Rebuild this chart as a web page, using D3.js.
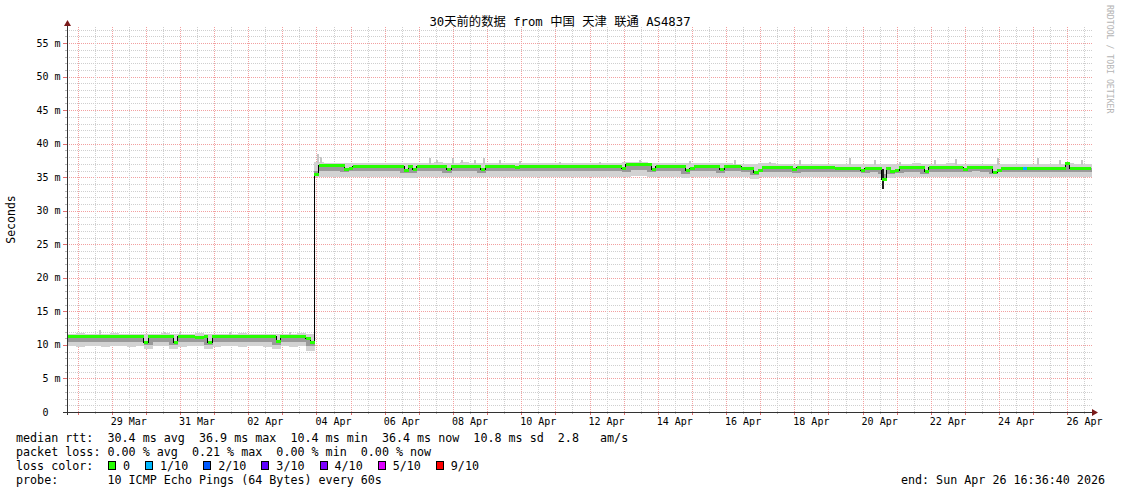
<!DOCTYPE html>
<html><head><meta charset="utf-8">
<script src="https://cdn.jsdelivr.net/npm/d3@7"></script>
<style>
body{margin:0;background:#fff}
svg{display:block}
text{font-family:'DejaVu Sans Mono','Noto Sans CJK SC',monospace;fill:#000;white-space:pre}
</style>
</head><body>
<svg id="c" width="1121" height="494"></svg>
<script>
// ---------------- DATA ----------------
const chartTitle = "30天前的数据 from 中国 天津 联通 AS4837";
const endTimeIso = "2026-04-26T16:36:40Z";
const spanDays = 30;
const yAxisTitle = "Seconds";
const watermark = "RRDTOOL / TOBI OETIKER";

const yTickValues = [0, 5, 10, 15, 20, 25, 30, 35, 40, 45, 50, 55];
const yTickLabels = ["0  ", "5 m", "10 m", "15 m", "20 m", "25 m", "30 m", "35 m", "40 m", "45 m", "50 m", "55 m"];
const yMax = 57.4;

const xTickDays = ["2026-03-29","2026-03-31","2026-04-02","2026-04-04","2026-04-06","2026-04-08","2026-04-10","2026-04-12","2026-04-14","2026-04-16","2026-04-18","2026-04-20","2026-04-22","2026-04-24","2026-04-26"];
const xTickLabels = ["29 Mar","31 Mar","02 Apr","04 Apr","06 Apr","08 Apr","10 Apr","12 Apr","14 Apr","16 Apr","18 Apr","20 Apr","22 Apr","24 Apr","26 Apr"];

// median RTT (ms), one value every 3 hours from the start of the 30-day window
const medianStepHours = 3;
const medianRtt = [
 11.2,11.2,11.2,11.2,11.2,11.2,11.2,11.2,
 11.2,11.2,11.3,11.2,11.2,11.2,11.2,11.2,
 11.2,11.2,10.4,11.2,11.2,11.2,11.2,11.2,
 11.2,10.4,11.2,11.2,11.2,11.2,11.1,11.1,
 11.2,10.4,11.2,11.2,11.2,11.2,11.2,11.2,
 11.2,11.2,11.2,11.2,11.2,11.2,11.2,11.2,
 11.2,10.5,11.2,11.2,11.2,11.2,11.2,11.2,
 11.0,10.4,35.4,36.7,36.7,36.7,36.7,36.7,
 36.7,36.2,36.3,36.65,36.65,36.65,36.65,36.65,
 36.65,36.65,36.65,36.65,36.65,36.65,36.65,36.05,
 36.6,36.1,36.65,36.65,36.65,36.65,36.65,36.65,
 36.65,36.1,36.6,36.6,36.6,36.6,36.6,36.6,
 36.6,36.15,36.6,36.6,36.6,36.6,36.6,36.6,
 36.6,36.4,36.65,36.65,36.65,36.65,36.65,36.65,
 36.65,36.65,36.65,36.65,36.65,36.65,36.65,36.65,
 36.65,36.65,36.65,36.65,36.65,36.65,36.65,36.65,
 36.65,36.65,36.3,36.85,36.85,36.85,36.85,36.85,
 36.85,36.2,36.65,36.65,36.65,36.65,36.65,36.65,
 36.65,35.95,36.3,36.65,36.65,36.65,36.65,36.65,
 36.65,36.1,36.6,36.6,36.6,36.6,36.3,36.3,
 36.3,35.65,36.0,36.45,36.45,36.45,36.45,36.45,
 36.45,36.45,36.2,36.45,36.45,36.45,36.45,36.45,
 36.45,36.45,36.45,36.45,36.3,36.3,36.3,36.3,
 36.3,36.3,36.0,36.3,36.3,36.3,36.3,34.6,
 36.3,35.8,36.0,36.4,36.4,36.4,36.4,36.4,
 36.4,35.8,36.45,36.45,36.45,36.45,36.45,36.45,
 36.45,36.45,36.2,36.45,36.45,36.45,36.45,36.45,
 36.45,35.75,36.0,36.35,36.35,36.35,36.35,36.35,
 36.35,36.35,36.35,36.35,36.35,36.35,36.35,36.35,
 36.35,36.35,37.0,36.35,36.35,36.35,36.35,36.35
];
// samples with packet loss (index into medianRtt, loss in tenths)
const lossSampleIndex = [224];
const lossSampleTenths = [1];

// smoke (spread of the pings), one value every 6 hours
const smokeStepHours = 6;
const smokeMax = [
 11.7,11.8,11.7,11.7,11.7,11.8,11.7,11.7,11.7,11.7,11.7,11.8,
 11.7,11.7,11.7,11.8,11.7,11.7,11.7,11.7,11.8,11.7,11.7,11.7,
 11.7,11.7,11.7,11.8,11.7,37.2,37.1,37.1,37.1,37.1,37.15,37.1,
 37.1,37.1,37.1,37.1,37.1,37.15,37.1,37.2,37.1,37.1,37.2,37.1,
 37.1,37.1,37.15,37.1,37.1,37.1,37.1,37.15,37.1,37.1,37.1,37.1,
 37.15,37.15,37.1,37.1,37.15,37.3,37.3,37.3,37.15,37.1,37.15,37.1,
 37.1,37.1,37.15,37.1,37.1,37.1,37.0,37.0,37.0,37.05,37.05,37.0,
 37.0,37.0,37.0,37.0,37.0,36.95,36.95,37.0,36.95,36.95,36.95,36.95,
 37.0,37.0,37.0,37.05,37.0,37.0,37.0,37.05,37.0,37.0,37.0,37.0,
 36.95,36.95,36.95,36.95,37.0,36.95,36.95,36.95,37.0,37.05,36.95,36.95
];
const smokeMin = [
 9.8,9.7,9.8,9.8,9.7,9.8,9.8,9.7,9.8,9.4,9.8,9.8,
 9.4,9.7,9.8,9.8,9.4,9.7,9.8,9.8,9.7,9.8,9.8,9.7,
 9.4,9.8,9.7,9.8,9.1,35.1,35.1,35.1,35.0,35.1,35.1,35.1,
 35.1,35.1,35.1,34.9,34.9,35.1,35.1,35.1,35.0,35.1,35.1,35.1,
 35.0,35.1,35.1,35.1,35.1,35.1,35.1,35.1,35.1,35.1,35.1,35.1,
 35.1,35.1,35.1,35.1,35.1,35.0,35.2,35.2,35.0,35.1,35.1,35.1,
 34.9,35.1,35.1,35.1,35.0,35.1,35.1,35.1,34.8,35.1,35.1,35.1,
 35.1,35.1,35.1,35.1,35.1,35.1,35.1,35.1,35.1,35.0,35.1,34.9,
 34.9,35.1,35.1,35.1,35.0,35.1,35.1,35.1,35.1,35.1,35.1,35.1,
 35.0,35.1,35.1,35.1,35.1,35.1,35.1,35.1,35.1,35.1,35.1,35.1
];
// lower edge of the dense (darker) part of the smoke
const smokeLow = [
 10.4,10.4,10.4,10.4,10.4,10.4,10.4,10.4,10.4,10.0,10.4,10.4,
 10.0,10.4,10.4,10.4,10.0,10.4,10.4,10.4,10.4,10.4,10.4,10.4,
 10.0,10.4,10.4,10.4,9.8,35.9,36.0,36.0,35.8,35.9,36.0,36.0,
 36.0,36.0,36.0,35.6,35.6,36.0,36.0,36.0,35.7,36.0,36.0,36.0,
 35.7,36.0,36.0,36.0,35.9,36.0,36.0,36.0,36.0,36.0,36.0,36.0,
 36.0,36.0,36.0,36.0,36.0,35.8,36.1,36.1,35.8,36.0,36.0,36.0,
 35.5,36.0,36.0,36.0,35.7,36.0,36.0,35.8,35.3,35.8,35.8,35.8,
 35.8,35.7,35.8,35.8,35.8,35.8,35.8,35.8,35.8,35.6,35.8,35.5,
 35.5,35.7,35.8,35.8,35.5,35.8,35.8,35.8,35.8,35.8,35.9,35.8,
 35.5,35.8,35.8,35.8,35.8,35.8,35.8,35.8,35.8,35.8,35.8,35.8
];
// isolated high pings (hours from start, top value ms)
const spikeHours = [23.2,68.9,79.5,114.6,156.8,176.5,178.6,255.2,260.2,271.4,277.7,286.9,293.2,304.5,318.5,346.6,374.8,402.9,438.1,469.7,494.3,515.4,550.6,568.2,585.8,610.4,625.2,654.6,682.7,698.2,713.7];
const spikeTops  = [12.2,11.9,12.0,11.9,12.0,38.5,38.0,37.9,37.6,37.8,37.5,37.6,37.8,37.5,37.4,37.3,37.3,37.6,37.4,37.6,37.3,37.5,37.8,37.5,37.3,37.5,37.7,37.9,37.8,37.5,37.6];
// isolated low bursts (dark)
const dropHours = [573.7];
const dropLows = [33.2];
const dropHighs = [36.3];

const lossLabels = ["0","1/10","2/10","3/10","4/10","5/10","9/10"];
const lossColors = ["#26ff00","#00b8ff","#0059ff","#5e00ff","#7e00ff","#dd00ff","#ff0000"];

const legendMedian = "median rtt:  30.4 ms avg  36.9 ms max  10.4 ms min  36.4 ms now  10.8 ms sd  2.8   am/s";
const legendLoss = "packet loss: 0.00 % avg  0.21 % max  0.00 % min  0.00 % now";
const legendColorTitle = "loss color:";
const legendProbe = "probe:       10 ICMP Echo Pings (64 Bytes) every 60s";
const legendEnd = "end: Sun Apr 26 16:36:40 2026";

// ---------------- DRAW ----------------
const svg = d3.select("#c");
const L = 67, R = 1091, T = 27, B = 412;
const HOUR = 3600000;
const endT = new Date(endTimeIso);
const startT = new Date(endT.getTime() - spanDays * 24 * HOUR);
const x = d3.scaleUtc().domain([startT, endT]).range([L, R]);
const y = d3.scaleLinear().domain([0, yMax]).range([B, T]);
const tAt = h => new Date(startT.getTime() + h * HOUR);

const minorColor = "#cfcfcf", majorColor = "#f2a0a0";
const gGrid = svg.append("g").attr("shape-rendering", "crispEdges");

// horizontal grid: 1 ms minor, 5 ms major
const minorY = d3.range(1, Math.floor(yMax) + 1).filter(v => v % 5 !== 0);
gGrid.selectAll(".hmin").data(minorY).join("line")
  .attr("x1", L).attr("x2", R + 2).attr("y1", d => Math.round(y(d)) + 0.5).attr("y2", d => Math.round(y(d)) + 0.5)
  .attr("stroke", minorColor).attr("stroke-dasharray", "1,1");
gGrid.selectAll(".hmaj").data(yTickValues.filter(v => v > 0)).join("line")
  .attr("x1", L).attr("x2", R + 2).attr("y1", d => Math.round(y(d)) + 0.5).attr("y2", d => Math.round(y(d)) + 0.5)
  .attr("stroke", majorColor).attr("stroke-dasharray", "1,1");
gGrid.selectAll(".ytmin").data(minorY).join("line")
  .attr("x1", L - 2).attr("x2", L).attr("y1", d => Math.round(y(d)) + 0.5).attr("y2", d => Math.round(y(d)) + 0.5)
  .attr("stroke", "#bbb");
gGrid.selectAll(".ytmaj").data(yTickValues).join("line")
  .attr("x1", L - 4).attr("x2", L).attr("y1", d => Math.round(y(d)) + 0.5).attr("y2", d => Math.round(y(d)) + 0.5)
  .attr("stroke", "#e07070");

// vertical grid: noon minor, midnight major
const midnights = d3.utcDay.range(startT, endT);
const noons = d3.utcHour.range(startT, endT).filter(d => d.getUTCHours() === 12);
gGrid.selectAll(".vmin").data(noons).join("line")
  .attr("x1", d => Math.round(x(d)) + 0.5).attr("x2", d => Math.round(x(d)) + 0.5).attr("y1", T).attr("y2", B)
  .attr("stroke", minorColor).attr("stroke-dasharray", "1,1");
gGrid.selectAll(".vmaj").data(midnights).join("line")
  .attr("x1", d => Math.round(x(d)) + 0.5).attr("x2", d => Math.round(x(d)) + 0.5).attr("y1", T).attr("y2", B)
  .attr("stroke", majorColor).attr("stroke-dasharray", "1,1");
gGrid.selectAll(".xtmin").data(noons).join("line")
  .attr("x1", d => Math.round(x(d)) + 0.5).attr("x2", d => Math.round(x(d)) + 0.5).attr("y1", B).attr("y2", B + 2)
  .attr("stroke", "#bbb");
gGrid.selectAll(".xtmaj").data(midnights).join("line")
  .attr("x1", d => Math.round(x(d)) + 0.5).attr("x2", d => Math.round(x(d)) + 0.5).attr("y1", B).attr("y2", B + 3)
  .attr("stroke", "#e07070");

// smoke
const gData = svg.append("g").attr("shape-rendering", "crispEdges");
const smokeIdx = d3.range(smokeMax.length);
gData.selectAll(".smoke").data(smokeIdx).join("rect")
  .attr("x", j => x(tAt(j * smokeStepHours)))
  .attr("width", j => x(tAt((j + 1) * smokeStepHours)) - x(tAt(j * smokeStepHours)) + 0.5)
  .attr("y", j => y(smokeMax[j]))
  .attr("height", j => y(smokeMin[j]) - y(smokeMax[j]))
  .attr("fill", "#d2d2d2");
gData.selectAll(".spike").data(d3.range(spikeHours.length)).join("rect")
  .attr("x", k => x(tAt(spikeHours[k])) - 0.75).attr("width", 1.5)
  .attr("y", k => y(spikeTops[k]))
  .attr("height", k => y(smokeMax[Math.floor(spikeHours[k] / smokeStepHours)]) - y(spikeTops[k]) + 1)
  .attr("fill", "#c6c6c6");
const medIdx = d3.range(medianRtt.length);
const mx0 = i => x(tAt(i * medianStepHours));
const mx1 = i => x(tAt((i + 1) * medianStepHours));
const lowAt = i => smokeLow[Math.floor(i * medianStepHours / smokeStepHours)];
gData.selectAll(".dense").data(medIdx).join("rect")
  .attr("x", mx0).attr("width", i => mx1(i) - mx0(i) + 0.5)
  .attr("y", i => y(Math.max(medianRtt[i], lowAt(i))))
  .attr("height", i => Math.abs(y(lowAt(i)) - y(medianRtt[i])))
  .attr("fill", "#999999");
gData.selectAll(".drop").data(d3.range(dropHours.length)).join("rect")
  .attr("x", k => x(tAt(dropHours[k])) - 1.2).attr("width", 2.5)
  .attr("y", k => y(dropHighs[k])).attr("height", k => y(dropLows[k]) - y(dropHighs[k]))
  .attr("fill", "#202020");

// median line (black, stepped)
const medPts = medIdx.map(i => [tAt(i * medianStepHours), medianRtt[i]]);
medPts.push([endT, medianRtt[medianRtt.length - 1]]);
svg.append("path")
  .attr("d", d3.line().x(d => x(d[0])).y(d => y(d[1])).curve(d3.curveStepAfter)(medPts))
  .attr("fill", "none").attr("stroke", "#000").attr("stroke-width", 1).attr("shape-rendering", "crispEdges");

// loss coloured median band (on top of the black line)
const lossOf = i => { const k = lossSampleIndex.indexOf(i); return k < 0 ? 0 : lossSampleTenths[k]; };
const lossColorIdx = t => t === 0 ? 0 : t >= 9 ? 6 : Math.min(t, 5);
svg.append("g").attr("shape-rendering", "crispEdges").selectAll("rect").data(medIdx).join("rect")
  .attr("x", mx0).attr("width", i => mx1(i) - mx0(i) + 0.3)
  .attr("y", i => y(medianRtt[i]) - 1.5).attr("height", 3)
  .attr("fill", i => lossColors[lossColorIdx(lossOf(i))]);

// axes
const axisColor = "#333", arrowColor = "#7a1a1a";
svg.append("line").attr("x1", L + 0.5).attr("x2", L + 0.5).attr("y1", B + 3).attr("y2", 24)
  .attr("stroke", axisColor).attr("shape-rendering", "crispEdges");
svg.append("line").attr("x1", L - 4).attr("x2", R + 2).attr("y1", B + 0.5).attr("y2", B + 0.5)
  .attr("stroke", axisColor).attr("shape-rendering", "crispEdges");
svg.append("path").attr("d", `M${L - 3},${26}L${L + 4},${26}L${L + 0.5},${20}Z`).attr("fill", arrowColor);
svg.append("path").attr("d", `M${R + 1},${B - 3}L${R + 1},${B + 4}L${R + 7},${B + 0.5}Z`).attr("fill", arrowColor);

// y labels
svg.selectAll(".ylab").data(yTickValues).join("text")
  .attr("x", 60.5).attr("y", d => y(d) + 3.5).attr("text-anchor", "end")
  .attr("font-size", "10px").text((d, i) => yTickLabels[i]);
// x labels (centred on the day)
svg.selectAll(".xlab").data(xTickDays).join("text")
  .attr("x", d => x(new Date(d + "T12:00:00Z"))).attr("y", 425).attr("text-anchor", "middle")
  .attr("font-size", "10px").text((d, i) => xTickLabels[i]);

// title, axis title, watermark
svg.append("text").attr("x", 560).attr("y", 26).attr("text-anchor", "middle")
  .attr("font-size", "12.3px").text(chartTitle);
svg.append("text").attr("transform", "translate(15,219.5) rotate(-90)").attr("text-anchor", "middle")
  .attr("font-size", "11.5px").text(yAxisTitle);
svg.append("text").attr("transform", "translate(1107,5) rotate(90)")
  .attr("font-size", "8.2px").style("fill", "#b4b4b4").text(watermark);

// legend
const lf = "11.7px", cw = 7.04;
svg.append("text").attr("x", 16).attr("y", 442).attr("font-size", lf).text(legendMedian);
svg.append("text").attr("x", 16).attr("y", 456).attr("font-size", lf).text(legendLoss);
svg.append("text").attr("x", 16).attr("y", 470).attr("font-size", lf).text(legendColorTitle);
svg.append("text").attr("x", 16).attr("y", 484).attr("font-size", lf).text(legendProbe);
svg.append("text").attr("x", 1105).attr("y", 484).attr("text-anchor", "end").attr("font-size", lf).text(legendEnd);
let sx = 108;
lossLabels.forEach((lab, k) => {
  svg.append("rect").attr("x", sx + 0.5).attr("y", 461.5).attr("width", 7).attr("height", 8)
    .attr("fill", lossColors[k]).attr("stroke", "#000").attr("shape-rendering", "crispEdges");
  svg.append("text").attr("x", sx + 15).attr("y", 470).attr("font-size", lf).text(lab);
  sx = sx + 15 + lab.length * cw + 15;
});
</script>
</body></html>
